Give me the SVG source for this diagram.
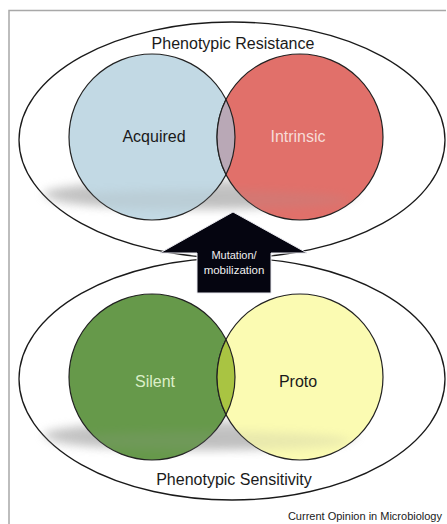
<svg xmlns="http://www.w3.org/2000/svg" width="447" height="524" viewBox="0 0 447 524">
<defs>
<filter id="blur" x="-20%" y="-100%" width="140%" height="300%"><feGaussianBlur stdDeviation="5"/></filter>
<style>
.outer{fill:#ffffff;stroke:#1a1a1a;stroke-width:1.3}
.circ{stroke:#222;stroke-width:1.2}
.lbl{font-family:"Liberation Sans",Arial,sans-serif;font-size:16px;text-anchor:middle}
.shadow{fill:#9a9a9a;filter:url(#blur)}
</style>
</defs>
<rect width="447" height="524" fill="#ffffff"/>
<path d="M9,524 V10.5 H446" fill="none" stroke="#a8a8a8" stroke-width="1.5"/>

<g id="resistance">
<ellipse class="outer" cx="232" cy="140" rx="213" ry="118"/>
<ellipse class="shadow" cx="200" cy="194" rx="157" ry="14" opacity="0.55"/>
<g id="acquired">
<circle class="circ" cx="152" cy="137" r="83" fill="#c2d9e4"/>
<text class="lbl" x="154" y="142" fill="#1a1a1a">Acquired</text>
</g>
<g id="intrinsic">
<circle class="circ" cx="300" cy="137" r="83" fill="#e1706a"/>
<text class="lbl" x="298" y="142" fill="#f7dcd8">Intrinsic</text>
</g>
<path class="circ" d="M226,99.4 A83,83 0 0 1 226,174.6 A83,83 0 0 1 226,99.4 Z" fill="#b9a8b6"/>
<ellipse class="shadow" cx="200" cy="200" rx="150" ry="10" opacity="0.18"/>
<text class="lbl" x="233" y="49" fill="#1a1a1a">Phenotypic Resistance</text>
</g>

<g id="sensitivity">
<ellipse class="outer" cx="232" cy="379" rx="213" ry="121"/>
<ellipse class="shadow" cx="200" cy="435" rx="157" ry="14" opacity="0.55"/>
<g id="silent">
<circle class="circ" cx="152" cy="377" r="83" fill="#66994a"/>
<text class="lbl" x="155" y="387" fill="#dcefc8">Silent</text>
</g>
<g id="proto">
<circle class="circ" cx="300" cy="377" r="83" fill="#fbfbb2"/>
<text class="lbl" x="298" y="387" fill="#1a1a1a">Proto</text>
</g>
<path class="circ" d="M226,339.4 A83,83 0 0 1 226,414.6 A83,83 0 0 1 226,339.4 Z" fill="#a9c442"/>
<ellipse class="shadow" cx="200" cy="441" rx="150" ry="10" opacity="0.18"/>
<text class="lbl" x="234" y="485" fill="#1a1a1a">Phenotypic Sensitivity</text>
</g>

<g id="connectors">
<g id="arrow">
<path d="M233,212 L307,253 L271,253 L271,293 L197,293 L197,253 L160,253 Z" fill="#050510" stroke="#e8e8ee" stroke-width="1"/>
<text x="234" y="259" fill="#f0f0f0" font-family="'Liberation Sans',Arial,sans-serif" font-size="11px" text-anchor="middle">Mutation/</text>
<text x="234" y="274" fill="#f0f0f0" font-family="'Liberation Sans',Arial,sans-serif" font-size="11.5px" text-anchor="middle">mobilization</text>
</g>
</g>

<text x="442" y="520" fill="#1a1a1a" font-family="'Liberation Sans',Arial,sans-serif" font-size="11px" text-anchor="end">Current Opinion in Microbiology</text>
</svg>
